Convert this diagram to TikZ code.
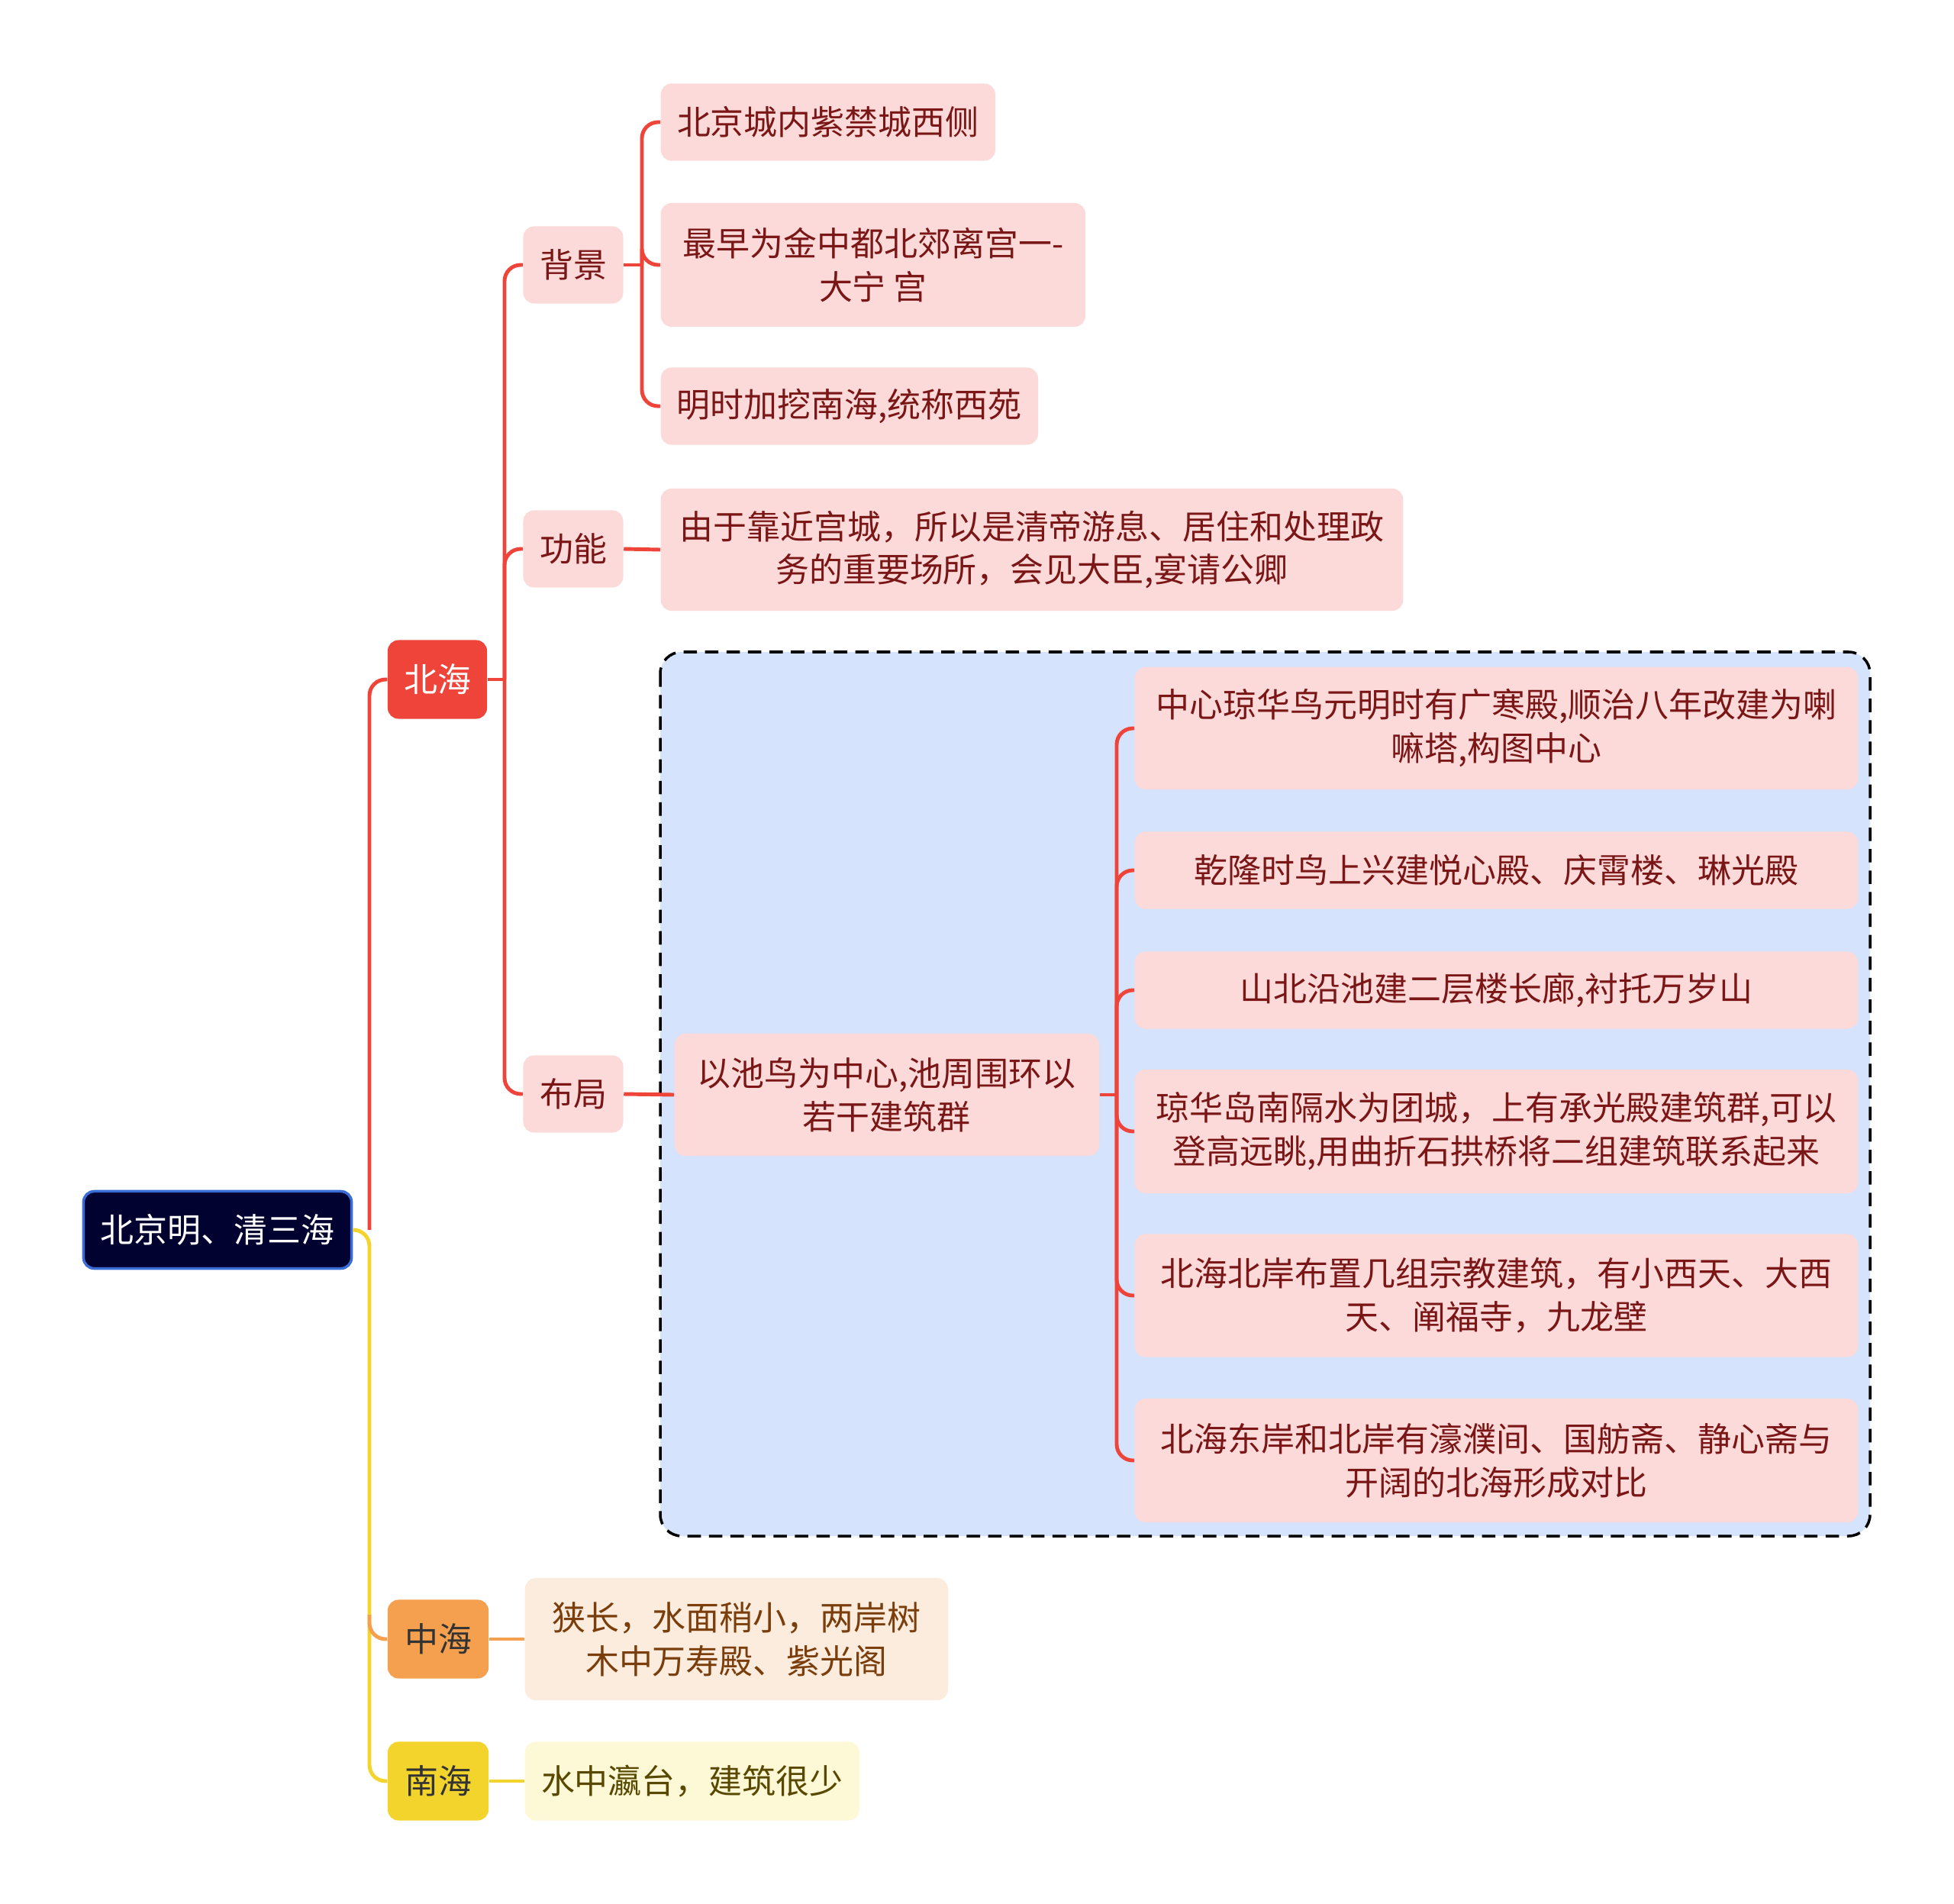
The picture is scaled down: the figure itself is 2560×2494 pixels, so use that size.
\documentclass[tikz,border=0pt]{standalone}
\usepackage{fontspec}
\setmainfont{Noto Sans CJK SC}
\definecolor{raiz}{RGB}{2,2,48}
\definecolor{borde}{RGB}{58,108,214}
\definecolor{rojo}{RGB}{239,68,58}
\definecolor{rosa}{RGB}{253,218,218}
\definecolor{granate}{RGB}{122,22,22}
\definecolor{azul}{RGB}{213,227,252}
\definecolor{naranja}{RGB}{244,160,78}
\definecolor{crema}{RGB}{252,236,222}
\definecolor{marron}{RGB}{122,62,12}
\definecolor{amarillo}{RGB}{242,212,44}
\definecolor{paja}{RGB}{253,248,214}
\definecolor{oliva}{RGB}{88,72,0}

\begin{document}
\begin{tikzpicture}[x=0.01cm, y=-0.01cm,
    caja/.style={rounded corners=4pt, align=center, inner sep=0pt,
      minimum height=1.01cm, font=\fontsize{12.5}{16.2}\selectfont},
    hoja/.style={caja, fill=rosa, text=granate},
    rama/.style={line width=1.4pt, rounded corners=6pt}]
  \useasboundingbox (0,0) rectangle (2560,2494);
  % raiz y ramas principales
  \node[caja, fill=raiz, draw=borde, line width=1pt, text=white, minimum width=3.51cm] (raiz) at (285,1611) {北京明、清三海};
  \node[caja, fill=rojo, text=white, minimum width=1.30cm, minimum height=1.03cm] (beihai) at (573,890) {北海};
  \node[caja, fill=naranja, text=black!80, minimum width=1.32cm, minimum height=1.03cm] (zhonghai) at (574,2147) {中海};
  \node[caja, fill=amarillo, text=black!80, minimum width=1.32cm, minimum height=1.03cm] (nanhai) at (574,2333) {南海};
  % fondo del bloque punteado
  \draw[dashed, dash pattern=on 5pt off 3pt, line width=1pt, fill=azul, rounded corners=8pt] (865,854) rectangle (2450,2012);
  % segundo nivel
  \node[hoja, minimum width=1.31cm] (beijing) at (751,347) {背景};
  \node[hoja, minimum width=1.31cm] (gongneng) at (751,719) {功能};
  \node[hoja, minimum width=1.31cm] (buju) at (751,1433) {布局};
  % hojas
  \node[hoja, anchor=west, minimum width=4.38cm] (bj1) at (865,160) {北京城内紫禁城西侧};
  \node[hoja, anchor=west, minimum width=5.56cm, minimum height=1.62cm] (bj2) at (865,347) {最早为金中都北郊离宫一-\\大宁 宫};
  \node[hoja, anchor=west, minimum width=4.94cm] (bj3) at (865,532) {明时加挖南海,统称西苑};
  \node[hoja, anchor=west, minimum width=9.72cm, minimum height=1.60cm] (gn1) at (865,720) {由于靠近宫城，所以是清帝游息、居住和处理政\\务的重要场所，会见大臣,宴请公卿};
  \node[hoja, anchor=west, minimum width=5.56cm, minimum height=1.60cm] (bu0) at (883,1434) {以池鸟为中心,池周围环以\\若干建筑群};
  \node[hoja, anchor=west, minimum width=9.47cm, minimum height=1.60cm] (bl1) at (1486,954) {中心琼华鸟元明时有广寒殿,顺治八年改建为喇\\嘛塔,构图中心};
  \node[hoja, anchor=west, minimum width=9.47cm] (bl2) at (1486,1140) {乾隆时鸟上兴建悦心殿、庆霄楼、琳光殿};
  \node[hoja, anchor=west, minimum width=9.47cm] (bl3) at (1486,1297) {山北沿池建二层楼长廊,衬托万岁山};
  \node[hoja, anchor=west, minimum width=9.47cm, minimum height=1.62cm] (bl4) at (1486,1482) {琼华岛南隔水为团城，上有承光殿建筑群,可以\\登高远眺,用曲折石拱桥将二组建筑联系起来};
  \node[hoja, anchor=west, minimum width=9.47cm, minimum height=1.61cm] (bl5) at (1486,1697) {北海北岸布置几组宗教建筑，有小西天、大西\\天、阐福寺，九龙壁};
  \node[hoja, anchor=west, minimum width=9.47cm, minimum height=1.62cm] (bl6) at (1486,1913) {北海东岸和北岸有濠濮间、国舫斋、静心斋与\\开阔的北海形成对比};
  \node[caja, anchor=west, fill=crema, text=marron, minimum width=5.54cm, minimum height=1.60cm] (zh1) at (687,2147) {狭长，水面稍小，两岸树\\木中万寿殿、紫光阁};
  \node[caja, anchor=west, fill=paja, text=oliva, minimum width=4.38cm, minimum height=1.03cm] (nh1) at (687,2333) {水中瀛台，建筑很少};
  % conectores
  \coordinate (t0) at (484,1611);
  \coordinate (t1) at (661,890);
  \coordinate (t2) at (841,347);
  \coordinate (t3) at (1463,1434);
  \draw[rama, amarillo] (raiz.east) -- (t0) |- (nanhai.west);
  \draw[rama, naranja] (484,2115) |- (zhonghai.west);
  \draw[rama, rojo] (t0) |- (beihai.west);
  \draw[rama, rojo] (beihai.east) -- (t1);
  \foreach \n in {beijing, gongneng, buju}
    \draw[rama, rojo] (t1) |- (\n.west);
  \draw[rama, rojo] (beijing.east) -- (t2);
  \foreach \n in {bj1, bj2, bj3}
    \draw[rama, rojo] (t2) |- (\n.west);
  \draw[rama, rojo] (gongneng.east) -- (gn1.west);
  \draw[rama, rojo] (buju.east) -- (bu0.west);
  \draw[rama, rojo] (bu0.east) -- (t3);
  \foreach \n in {bl1, bl2, bl3, bl4, bl5, bl6}
    \draw[rama, rojo] (t3) |- (\n.west);
  \draw[rama, naranja] (zhonghai.east) -- (zh1.west);
  \draw[rama, amarillo] (nanhai.east) -- (nh1.west);
\end{tikzpicture}
\end{document}
